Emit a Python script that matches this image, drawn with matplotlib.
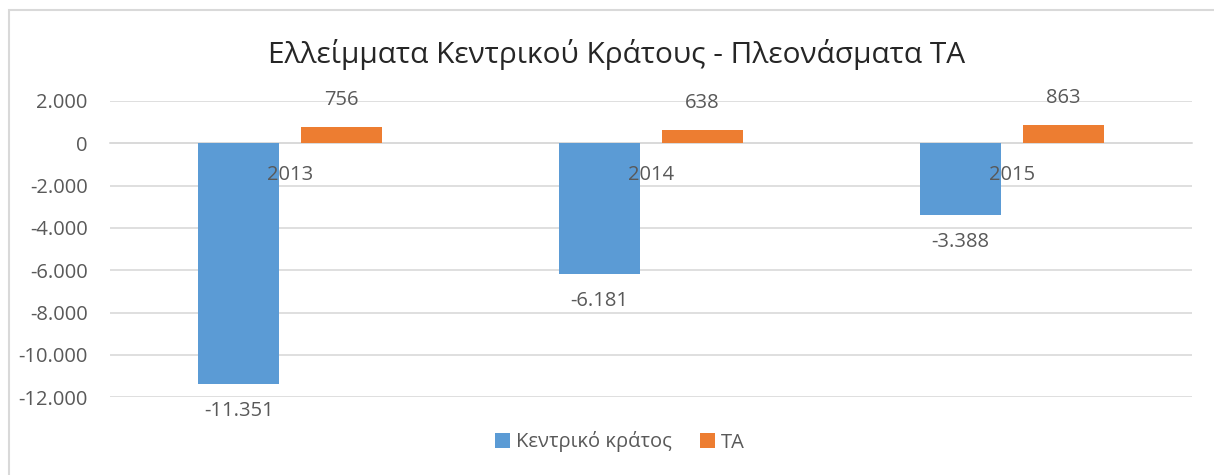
import matplotlib
matplotlib.use("Agg")
import matplotlib.pyplot as plt
from matplotlib.patches import Rectangle
from matplotlib.ticker import FuncFormatter
import numpy as np

categories = ["2013", "2014", "2015"]
central = [-11351, -6181, -3388]
local = [756, 638, 863]
series_names = ["Κεντρικό κράτος", "ΤΑ"]
title = "Ελλείμματα Κεντρικού Κράτους - Πλεονάσματα ΤΑ"

plt.rcParams['font.family'] = ['Open Sans', 'DejaVu Sans']
TXT = '#595959'
BLUE = '#5B9BD5'
ORANGE = '#ED7D31'
GRID = '#D9D9D9'
FS = 14.5

fig = plt.figure(figsize=(12.14, 4.75), dpi=100)
fig.patches.append(Rectangle((9/1214, -0.1), 1.2, (475-10)/475 + 0.1, transform=fig.transFigure,
                             fill=False, edgecolor='#D9D9D9', linewidth=1.5))
ax = fig.add_axes([110/1214, 1-397.3/475, (1192-110)/1214, (397.3-101)/475])

x = np.arange(len(categories))
w = 0.2246
off = 0.1428
b1 = ax.bar(x - off, central, w, color=BLUE, label=series_names[0], zorder=3)
b2 = ax.bar(x + off, local, w, color=ORANGE, label=series_names[1], zorder=3)

def fmt(v, pos=None):
    s = f"{abs(int(round(v))):,}".replace(",", ".")
    return ("-" if v < 0 else "") + s

for rect, v in zip(b1, central):
    ax.annotate(fmt(v), (rect.get_x() + rect.get_width()/2, v), xytext=(0, -19.5),
                textcoords='offset points', ha='center', va='center', fontsize=FS, color=TXT)
for rect, v in zip(b2, local):
    ax.annotate(fmt(v), (rect.get_x() + rect.get_width()/2, v), xytext=(0, 19.5),
                textcoords='offset points', ha='center', va='center', fontsize=FS, color=TXT)

# category labels at the zero line, drawn above bars
for xi, c in zip(x, categories):
    ax.annotate(c, (xi, 0), xytext=(0, -23), textcoords='offset points',
                ha='center', va='center', fontsize=FS, color=TXT, zorder=10)

ax.set_xlim(-0.5, len(categories) - 0.5)
ax.set_ylim(-12000, 2000)
ax.set_yticks(np.arange(-12000, 2001, 2000))
ax.yaxis.set_major_formatter(FuncFormatter(fmt))
ax.set_xticks(x)
ax.set_xticklabels([])
ax.grid(axis='y', color=GRID, linewidth=1.2, zorder=0)
for s in ['left', 'right', 'top']:
    ax.spines[s].set_visible(False)
ax.spines['bottom'].set_position(('data', 0))
ax.spines['bottom'].set_color(GRID)
ax.spines['bottom'].set_linewidth(1.2)
ax.tick_params(axis='both', length=0, labelsize=FS, colors=TXT)
ax.tick_params(axis='y', pad=16)

fig.text(617/1214, 1-55/475, title, ha='center', va='center', fontsize=21.5, color='#262626')

fig.legend(handles=[b1, b2], labels=series_names, loc='center', bbox_to_anchor=(620/1214, 1-442/475),
           ncol=2, frameon=False, fontsize=FS, labelcolor=TXT, handlelength=0.75, handleheight=0.75,
           handletextpad=0.3, columnspacing=1.4)

fig.savefig("out.png", dpi=100)
